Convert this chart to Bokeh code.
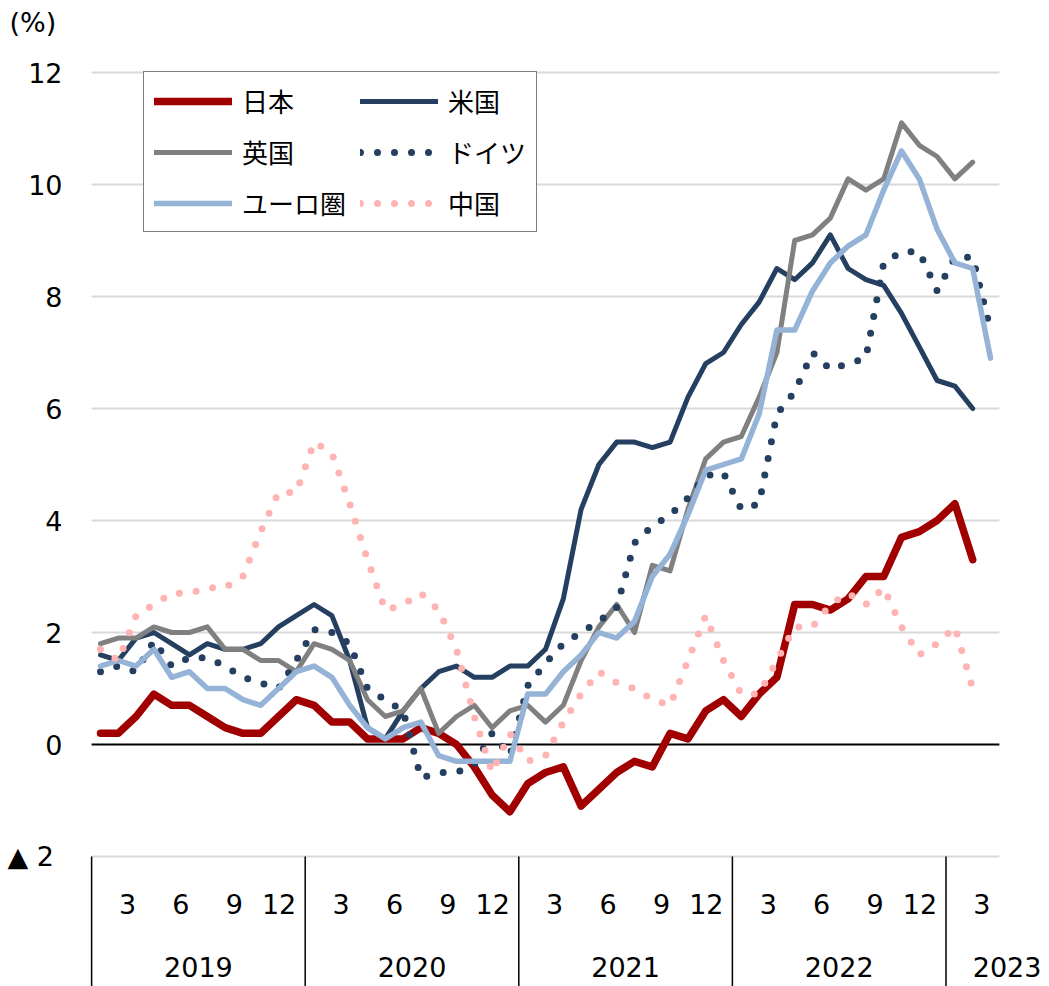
from bokeh.plotting import figure
from bokeh.models import Range1d, Legend, LegendItem
from bokeh.core.properties import value
from bokeh.embed import file_html
from bokeh.resources import INLINE

# ---------------- data (monthly, Jan 2019 - Mar 2023, YoY %) ----------------
years = ["2019", "2020", "2021", "2022", "2023"]
months_per_year = [12, 12, 12, 12, 3]
month_ticks = [3, 6, 9, 12]

japan = [0.2, 0.2, 0.5, 0.9, 0.7, 0.7, 0.5, 0.3, 0.2, 0.2, 0.5, 0.8,
         0.7, 0.4, 0.4, 0.1, 0.1, 0.1, 0.3, 0.2, 0.0, -0.4, -0.9, -1.2,
         -0.7, -0.5, -0.4, -1.1, -0.8, -0.5, -0.3, -0.4, 0.2, 0.1, 0.6, 0.8,
         0.5, 0.9, 1.2, 2.5, 2.5, 2.4, 2.6, 3.0, 3.0, 3.7, 3.8, 4.0,
         4.3, 3.3]
usa = [1.6, 1.5, 1.9, 2.0, 1.8, 1.6, 1.8, 1.7, 1.7, 1.8, 2.1, 2.3,
       2.5, 2.3, 1.5, 0.3, 0.1, 0.6, 1.0, 1.3, 1.4, 1.2, 1.2, 1.4,
       1.4, 1.7, 2.6, 4.2, 5.0, 5.4, 5.4, 5.3, 5.4, 6.2, 6.8, 7.0,
       7.5, 7.9, 8.5, 8.3, 8.6, 9.1, 8.5, 8.3, 8.2, 7.7, 7.1, 6.5,
       6.4, 6.0]
uk = [1.8, 1.9, 1.9, 2.1, 2.0, 2.0, 2.1, 1.7, 1.7, 1.5, 1.5, 1.3,
      1.8, 1.7, 1.5, 0.8, 0.5, 0.6, 1.0, 0.2, 0.5, 0.7, 0.3, 0.6,
      0.7, 0.4, 0.7, 1.5, 2.1, 2.5, 2.0, 3.2, 3.1, 4.2, 5.1, 5.4,
      5.5, 6.2, 7.0, 9.0, 9.1, 9.4, 10.1, 9.9, 10.1, 11.1, 10.7, 10.5,
      10.1, 10.4]
germany = [1.3, 1.4, 1.3, 1.85, 1.4, 1.55, 1.55, 1.4, 1.2, 1.1, 1.0, 1.5,
           2.05, 2.0, 1.8, 1.0, 0.8, 0.6, -0.6, -0.5, -0.5, -0.35, 0.2, -0.2,
           1.05, 1.45, 1.8, 2.0, 2.2, 2.45, 3.6, 3.9, 4.1, 4.4, 4.8, 4.85,
           4.2, 4.3, 5.9, 6.3, 7.0, 6.7, 6.8, 6.9, 8.6, 8.8, 8.8, 8.1,
           8.7, 8.7, 7.4]
euro = [1.4, 1.5, 1.4, 1.7, 1.2, 1.3, 1.0, 1.0, 0.8, 0.7, 1.0, 1.3,
        1.4, 1.2, 0.7, 0.3, 0.1, 0.3, 0.4, -0.2, -0.3, -0.3, -0.3, -0.3,
        0.9, 0.9, 1.3, 1.6, 2.0, 1.9, 2.2, 3.0, 3.4, 4.1, 4.9, 5.0,
        5.1, 5.9, 7.4, 7.4, 8.1, 8.6, 8.9, 9.1, 9.9, 10.6, 10.1, 9.2,
        8.6, 8.5, 6.9]
china = [1.7, 1.5, 2.3, 2.5, 2.7, 2.7, 2.8, 2.8, 3.0, 3.8, 4.5, 4.5,
         5.4, 5.2, 4.3, 3.3, 2.4, 2.5, 2.7, 2.4, 1.7, 0.5, -0.5, 0.2,
         -0.3, -0.2, 0.4, 0.9, 1.3, 1.1, 1.0, 0.8, 0.7, 1.5, 2.3, 1.5,
         0.9, 0.9, 1.5, 2.1, 2.1, 2.5, 2.7, 2.5, 2.8, 2.1, 1.6, 1.8,
         2.1, 1.0]

y_ticks = [-2, 0, 2, 4, 6, 8, 10, 12]
y_tick_labels = ["▲  2", "0", "2", "4", "6", "8", "10", "12"]
grid_values = [-2, 2, 4, 6, 8, 10, 12]

# ---------------- layout helpers ----------------
n_total = sum(months_per_year)
month_x = list(range(n_total))
W, H = 1049, 986
DX, DY = 17.8, 56.0            # px per month / per %
x_start = (0 - 100) / DX
y_end = (744 - 0) / DY

NUM_FONT = value("DejaVu Sans")
JP_FONT = "Noto Sans CJK JP"
FS = "27px"

p = figure(width=W, height=H, output_backend="svg", toolbar_location=None,
           x_axis_type=None, y_axis_type=None,
           x_range=Range1d(x_start, x_start + W / DX),
           y_range=Range1d(y_end - H / DY, y_end),
           min_border=0, min_border_left=0, min_border_right=0,
           min_border_top=0, min_border_bottom=0)
p.outline_line_color = None
p.background_fill_color = "white"
p.border_fill_color = "white"

x_lo, x_hi = -0.5, n_total - 0.5
y_bottom = y_end - H / DY

# gridlines
p.segment(x0=[x_lo] * len(grid_values), x1=[x_hi] * len(grid_values),
          y0=grid_values, y1=grid_values, line_color="#D9D9D9", line_width=2)
# zero line
p.segment(x0=[x_lo], x1=[x_hi], y0=[0], y1=[0], line_color="black", line_width=2)

# year separators (category axis)
seps = []
acc = 0
for m in months_per_year:
    seps.append(acc - 0.5)
    acc += m
p.segment(x0=seps, x1=seps, y0=[-2] * len(seps), y1=[y_bottom] * len(seps),
          line_color="black", line_width=1.5)

# month labels
mlab_x, mlab_t = [], []
acc = 0
for yr, m in zip(years, months_per_year):
    for mt in month_ticks:
        if mt <= m:
            mlab_x.append(acc + mt - 1)
            mlab_t.append(str(mt))
    acc += m
p.text(x=mlab_x, y=[-2.84] * len(mlab_x), text=mlab_t, text_font=NUM_FONT,
       text_font_size=FS, text_align="right", text_baseline="middle", text_color="black")

# year labels
ylab_x, ylab_t = [], []
acc = 0
for yr, m in zip(years, months_per_year):
    if m == 12:
        ylab_x.append(acc + (m - 1) / 2)
        ylab_t.append(yr)
    acc += m
p.text(x=ylab_x, y=[-3.98] * len(ylab_x), text=ylab_t, text_font=NUM_FONT,
       text_font_size=FS, text_align="center", text_baseline="middle", text_color="black")
# last (partial) year label starts just right of its separator
p.text(x=[seps[-1] + 1.5], y=[-3.98], text=[years[-1]], text_font=NUM_FONT,
       text_font_size=FS, text_align="left", text_baseline="middle", text_color="black")

# y tick labels
p.text(x=[(62 - 100) / DX] * len(y_ticks), y=y_ticks, text=y_tick_labels, text_font=NUM_FONT,
       text_font_size=FS, text_align="right", text_baseline="middle", text_color="black")
p.text(x=[(9 - 100) / DX], y=[12.89], text=["(%)"], text_font=NUM_FONT,
       text_font_size=FS, text_align="left", text_baseline="middle", text_color="black")

# ---------------- series ----------------
r_jp = p.line(month_x[:len(japan)], japan, line_color="#A00000", line_width=7.5,
              line_join="round", line_cap="round")
r_us = p.line(month_x[:len(usa)], usa, line_color="#243F60", line_width=5,
              line_join="round", line_cap="round")
r_uk = p.line(month_x[:len(uk)], uk, line_color="#808080", line_width=5,
              line_join="round", line_cap="round")
r_de = p.line(month_x[:len(germany)], germany, line_color="#243F60", line_width=7,
              line_dash="0 17", line_cap="round", line_join="round")
r_eu = p.line(month_x[:len(euro)], euro, line_color="#95B3D7", line_width=5.5,
              line_join="round", line_cap="round")
r_cn = p.line(month_x[:len(china)], china, line_color="#FFB3B3", line_width=7,
              line_dash="0 17", line_cap="round", line_join="round")

legend = Legend(items=[
    LegendItem(label="日本", renderers=[r_jp]),
    LegendItem(label="英国", renderers=[r_uk]),
    LegendItem(label="ユーロ圏", renderers=[r_eu]),
    LegendItem(label="米国", renderers=[r_us]),
    LegendItem(label="ドイツ", renderers=[r_de]),
    LegendItem(label="中国", renderers=[r_cn]),
], location=(143, H - 232), orientation="vertical", nrows=3,
    glyph_width=78, glyph_height=34, label_height=34, label_standoff=10,
    spacing=14, padding=10, margin=0,
    border_line_color="black", border_line_width=1.5,
    background_fill_color="white", background_fill_alpha=1.0,
    label_text_font=JP_FONT, label_text_font_size="26px", label_text_color="black")
p.add_layout(legend)

open("out.html", "w").write(file_html(p, INLINE))
